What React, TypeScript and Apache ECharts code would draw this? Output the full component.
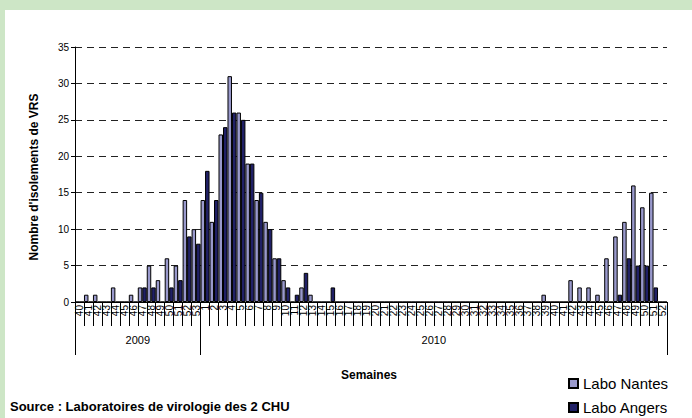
import React, { useEffect, useRef } from 'react';
import * as echarts from 'echarts';

const weeks2009 = ['40','41','42','43','44','45','46','47','48','49','50','51','52','53'];
const weeks2010 = ['1','2','3','4','5','6','7','8','9','10','11','12','13','14','15','16','17','18','19','20','21','22','23','24','25','26','27','28','29','30','31','32','33','34','35','36','37','38','39','40','41','42','43','44','45','46','47','48','49','50','51','52'];
const years = ['2009', '2010'];

const nantes2009 = [0, 1, 1, 0, 2, 0, 1, 2, 5, 3, 6, 5, 14, 10];
const nantes2010 = [
  14, 11, 23, 31, 26, 19, 14, 11, 6, 3,
  0, 2, 1, 0, 0, 0, 0, 0, 0, 0,
  0, 0, 0, 0, 0, 0, 0, 0, 0, 0,
  0, 0, 0, 0, 0, 0, 0, 0, 1, 0,
  0, 3, 2, 2, 1, 6, 9, 11, 16, 13,
  15, 0,
];
const angers2009 = [0, 0, 0, 0, 0, 0, 0, 2, 2, 0, 2, 3, 9, 8];
const angers2010 = [
  18, 14, 24, 26, 25, 19, 15, 10, 6, 2,
  1, 4, 0, 0, 2, 0, 0, 0, 0, 0,
  0, 0, 0, 0, 0, 0, 0, 0, 0, 0,
  0, 0, 0, 0, 0, 0, 0, 0, 0, 0,
  0, 0, 0, 0, 0, 0, 1, 6, 5, 5,
  2, 0,
];

const yTicks = { min: 0, max: 35, interval: 5 };

export default function App() {
  const ref = useRef<HTMLDivElement>(null);
  useEffect(() => {
    document.body.style.margin = '0';
    const chart = echarts.init(ref.current!, null, { renderer: 'svg' });
    const categories = [...weeks2009, ...weeks2010];
    const yearLens = [weeks2009.length, weeks2010.length];
    const bounds = [0, yearLens[0], yearLens[0] + yearLens[1]];
    const centers = [yearLens[0] / 2, yearLens[0] + yearLens[1] / 2];
    const font = 'Liberation Sans, Arial, sans-serif';
    chart.setOption({
      animation: false,
      backgroundColor: '#cde6c6',
      textStyle: { fontFamily: font },
      graphic: [
        { type: 'rect', z: -10, silent: true, shape: { x: 5, y: 10, width: 687, height: 408 }, style: { fill: '#ffffff' } },
        { type: 'text', x: 34, y: 177, rotation: Math.PI / 2, style: { text: "Nombre d'isolements de VRS", font: 'bold 12px ' + font, fill: '#000', align: 'center', verticalAlign: 'middle' } },
        { type: 'text', x: 369, y: 375, style: { text: 'Semaines', font: 'bold 12px ' + font, fill: '#000', align: 'center', verticalAlign: 'middle' } },
        { type: 'text', x: 10, y: 406, style: { text: 'Source : Laboratoires de virologie des 2 CHU', font: 'bold 13px ' + font, fill: '#000', align: 'left', verticalAlign: 'middle' } },
      ],
      legend: {
        orient: 'vertical', left: 568, top: 376, padding: 0, itemWidth: 9, itemHeight: 9, itemGap: 9,
        icon: 'rect',
        textStyle: { fontSize: 15, color: '#000', fontFamily: font },
        data: ['Labo Nantes', 'Labo Angers'],
      },
      grid: { left: 75, right: 25, top: 47, bottom: 116, containLabel: false },
      xAxis: [
        {
          type: 'category', data: categories, position: 'bottom',
          axisLine: { lineStyle: { color: '#000', width: 1 } },
          axisTick: { show: true, interval: 0, length: 24, lineStyle: { color: '#000' } },
          axisLabel: { interval: 0, rotate: 90, fontSize: 10, color: '#000', margin: 3 },
          splitLine: { show: false },
        },
        {
          type: 'value', min: 0, max: bounds[2], position: 'bottom', offset: 24,
          axisLine: { show: false }, splitLine: { show: false },
          axisTick: { show: true, customValues: bounds, length: 29, lineStyle: { color: '#000' } },
          axisLabel: { customValues: centers, fontSize: 11, color: '#000', margin: 8, formatter: (v: number) => years[centers.indexOf(v)] ?? '' },
        },
      ],
      yAxis: {
        type: 'value', min: yTicks.min, max: yTicks.max, interval: yTicks.interval,
        axisLine: { show: true, lineStyle: { color: '#000' } },
        axisTick: { show: true, length: 4, lineStyle: { color: '#000' } },
        axisLabel: { fontSize: 10, color: '#000', margin: 6 },
        splitLine: { show: true, lineStyle: { color: '#222', type: [7, 5], width: 1 } },
      },
      series: [
        {
          name: 'Labo Nantes', type: 'bar', xAxisIndex: 0, yAxisIndex: 0,
          data: [...nantes2009, ...nantes2010],
          barGap: '0%', barCategoryGap: '0%',
          itemStyle: { color: '#9999cc', borderColor: '#000', borderWidth: 1 },
        },
        {
          name: 'Labo Angers', type: 'bar', xAxisIndex: 0, yAxisIndex: 0,
          data: [...angers2009, ...angers2010],
          barGap: '0%', barCategoryGap: '0%',
          itemStyle: { color: '#202066', borderColor: '#000', borderWidth: 1 },
        },
      ],
    });
    return () => chart.dispose();
  }, []);
  return <div ref={ref} style={{ width: 692, height: 418 }} />;
}
